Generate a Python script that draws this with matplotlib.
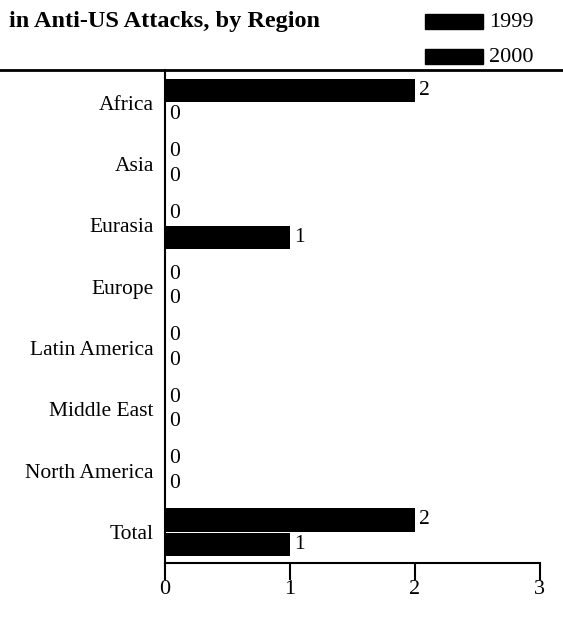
import matplotlib
matplotlib.use("Agg")
import matplotlib.pyplot as plt
import numpy as np

matplotlib.rcParams['font.family'] = "Liberation Serif"

regions = ["Africa", "Asia", "Eurasia", "Europe", "Latin America",
           "Middle East", "North America", "Total"]
attacks_1999 = [2, 0, 0, 0, 0, 0, 0, 2]
attacks_2000 = [0, 0, 1, 0, 0, 0, 0, 1]
years = ["1999", "2000"]

fig = plt.figure(figsize=(5.63, 6.22), dpi=100)
ax = fig.add_axes([0.293, 0.0949, 0.666, 0.7926])

y = np.arange(len(regions))
h = 0.38
b1 = ax.barh(y - h / 2 - 0.01, attacks_1999, height=h, color="black")
b2 = ax.barh(y + h / 2 + 0.01, attacks_2000, height=h, color="black")

for bars, vals in ((b1, attacks_1999), (b2, attacks_2000)):
    for bar, v in zip(bars, vals):
        ax.text(v + 0.03, bar.get_y() + bar.get_height() / 2, str(v),
                va="center", ha="left", fontsize=15.5)

ax.set_xlim(0, 3)
ax.set_ylim(7.5, -0.53)
ax.set_yticks(y)
ax.set_yticklabels(regions, fontsize=15.5)
ax.tick_params(axis="y", length=0, pad=8)
ax.set_xticks([0, 1, 2, 3])
ax.set_xticklabels(["0", "1", "2", "3"], fontsize=16)
ax.tick_params(axis="x", direction="out", length=12, width=1.5, pad=0)
for s in ("top", "right"):
    ax.spines[s].set_visible(False)
ax.spines["left"].set_linewidth(1.5)
ax.spines["bottom"].set_linewidth(1.5)

# rule under the heading across the whole width
fig.add_artist(plt.Line2D([0, 1], [0.8875, 0.8875], color="black", lw=2,
                          transform=fig.transFigure))

fig.text(0.016, 0.966, "in Anti-US Attacks, by Region", fontsize=17.5,
         fontweight="bold", va="center", ha="left")

# legend
for i, yr in enumerate(years):
    yy = 0.966 - i * 0.057
    fig.add_artist(plt.Rectangle((0.755, yy - 0.012), 0.103, 0.024,
                                 color="black", transform=fig.transFigure))
    fig.text(0.868, yy - 0.002, yr, fontsize=16, va="center", ha="left")

fig.savefig("out.png", dpi=100)
